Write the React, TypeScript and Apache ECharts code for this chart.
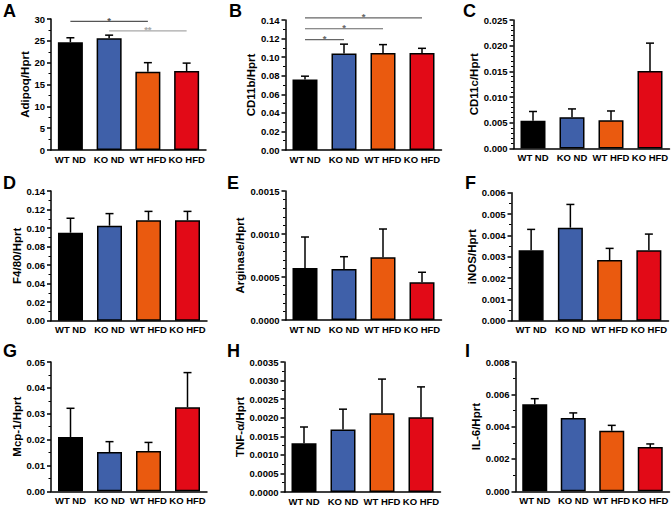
import React, { useEffect, useRef } from "react";
import * as echarts from "echarts";

const categories = ["WT ND", "KO ND", "WT HFD", "KO HFD"];
const barColors = ["#000000", "#3f60a9", "#ea5a0f", "#e20a17"];

const panelLetters = ["A", "B", "C", "D", "E", "F", "G", "H", "I"];
const yTitles = ["Adipoq/Hprt", "CD11b/Hprt", "CD11c/Hprt", "F4/80/Hprt", "Arginase/Hprt", "iNOS/Hprt", "Mcp-1/Hprt", "TNF-α/Hprt", "IL-6/Hprt"];

// means and SEM (upper error bar length)
const adipoqMean = [24.7, 25.6, 17.9, 18.1];
const adipoqSem = [1.0, 0.7, 2.1, 1.8];
const cd11bMean = [0.076, 0.104, 0.1045, 0.1045];
const cd11bSem = [0.0035, 0.010, 0.009, 0.005];
const cd11cMean = [0.0054, 0.0061, 0.0055, 0.0151];
const cd11cSem = [0.0018, 0.0016, 0.0018, 0.0054];
const f480Mean = [0.095, 0.1026, 0.1084, 0.1084];
const f480Sem = [0.0156, 0.013, 0.0096, 0.0096];
const arginaseMean = [0.000605, 0.000593, 0.000729, 0.000438];
const arginaseSem = [0.00036, 0.000143, 0.000329, 0.000117];
const inosMean = [0.0033, 0.00436, 0.00284, 0.0033];
const inosSem = [0.00098, 0.00109, 0.00055, 0.00076];
const mcp1Mean = [0.021, 0.0152, 0.0156, 0.0325];
const mcp1Sem = [0.0111, 0.004, 0.0033, 0.0134];
const tnfMean = [0.00131, 0.00168, 0.00212, 0.00201];
const tnfSem = [0.00044, 0.00055, 0.00092, 0.00082];
const il6Mean = [0.00538, 0.00454, 0.00375, 0.00274];
const il6Sem = [0.00035, 0.00031, 0.00033, 0.00019];

const means = [adipoqMean, cd11bMean, cd11cMean, f480Mean, arginaseMean, inosMean, mcp1Mean, tnfMean, il6Mean];
const sems = [adipoqSem, cd11bSem, cd11cSem, f480Sem, arginaseSem, inosSem, mcp1Sem, tnfSem, il6Sem];

// y axis scales: max, interval, minor splits, decimals
const yMax = [30, 0.14, 0.025, 0.14, 0.0015, 0.006, 0.05, 0.0035, 0.008];
const yInterval = [5, 0.02, 0.005, 0.02, 0.0005, 0.001, 0.01, 0.0005, 0.002];
const yMinorSplit = [2, 2, 5, 2, 5, 2, 2, 2, 2];
const yDecimals = [0, 2, 3, 2, 4, 3, 2, 4, 3];

// significance brackets
const sigPanel = [0, 0, 1, 1, 1];
const sigFrom = [0, 1, 0, 0, 0];
const sigTo = [2, 3, 1, 2, 3];
const sigY = [29.45, 27.3, 0.1188, 0.1306, 0.1422];
const sigLabel = ["*", "**", "*", "*", "*"];
const sigColor = ["#555555", "#a8a8a8", "#666666", "#666666", "#666666"];

// layout (pixels)
const gridLeft = [51, 285.5, 513.5, 51, 285.5, 511.5, 51, 284.5, 515.5];
const gridTop = [19, 20, 20, 191, 191, 192.7, 362, 362, 362];
const gridWidth = [155, 156, 156, 156, 156, 157, 156, 156, 154];
const gridHeight = [131, 130, 128.5, 129.7, 129, 128, 129.3, 130, 129.3];
const titleCenterX = [25, 252, 476, 17, 240, 476, 17, 240, 476];
const letterX = [3, 229, 463, 3, 227, 465, 3, 227, 465];
const letterY = [2, 2, 2, 174, 174, 174, 342, 342, 342];

const FONT = "'Liberation Sans', Arial, sans-serif";
const TITLE_SIZE = 11.5;

function buildOption() {
  const grid: any[] = [];
  const xAxis: any[] = [];
  const yAxis: any[] = [];
  const series: any[] = [];
  for (let p = 0; p < 9; p++) {
    grid.push({ left: gridLeft[p], top: gridTop[p], width: gridWidth[p], height: gridHeight[p], containLabel: false });
    xAxis.push({
      gridIndex: p,
      type: "category",
      data: categories,
      axisLine: { show: true, lineStyle: { color: "#000", width: 1.5 } },
      axisTick: { show: false },
      axisLabel: { interval: 0, color: "#000", fontWeight: "bold", fontSize: 9.5, fontFamily: FONT, margin: 4 },
      splitLine: { show: false },
    });
    const dec = yDecimals[p];
    yAxis.push({
      gridIndex: p,
      type: "value",
      min: 0,
      max: yMax[p],
      interval: yInterval[p],
      name: yTitles[p],
      nameLocation: "middle",
      nameGap: gridLeft[p] - titleCenterX[p] - TITLE_SIZE / 2,
      nameTextStyle: { color: "#000", fontWeight: "bold", fontSize: TITLE_SIZE, fontFamily: FONT },
      axisLine: { show: true, lineStyle: { color: "#000", width: 1.5 } },
      axisTick: { show: true, length: 4, lineStyle: { color: "#000", width: 1.5 } },
      minorTick: { show: true, splitNumber: yMinorSplit[p], length: 2.5, lineStyle: { color: "#000", width: 1 } },
      splitLine: { show: false },
      minorSplitLine: { show: false },
      axisLabel: {
        color: "#000",
        fontWeight: "bold",
        fontSize: 9.5,
        fontFamily: FONT,
        margin: 6,
        formatter: (v: number) => v.toFixed(dec),
      },
    });
    series.push({
      type: "bar",
      xAxisIndex: p,
      yAxisIndex: p,
      barWidth: 25,
      data: means[p].map((m, i) => ({ value: m, itemStyle: { color: barColors[i], borderColor: "#000", borderWidth: 1.5 } })),
      z: 2,
    });
    series.push({
      type: "custom",
      xAxisIndex: p,
      yAxisIndex: p,
      z: 3,
      encode: { x: 0, y: [1, 2] },
      data: means[p].map((m, i) => [i, m, m + sems[p][i]]),
      renderItem: (params: any, api: any) => {
        const x = api.value(0);
        const m = api.value(1);
        const e = api.value(2);
        const p0 = api.coord([x, m]);
        const p1 = api.coord([x, e]);
        const st = { stroke: "#000", lineWidth: 1.5 };
        return {
          type: "group",
          children: [
            { type: "line", shape: { x1: p0[0], y1: p0[1], x2: p1[0], y2: p1[1] }, style: st },
            { type: "line", shape: { x1: p1[0] - 4, y1: p1[1], x2: p1[0] + 4, y2: p1[1] }, style: st },
          ],
        };
      },
    });
  }
  for (let p = 0; p < 9; p++) {
    const idx = sigPanel.map((sp, k) => (sp === p ? k : -1)).filter((k) => k >= 0);
    if (!idx.length) continue;
    series.push({
      type: "custom",
      xAxisIndex: p,
      yAxisIndex: p,
      z: 4,
      clip: false,
      encode: { x: [0, 1], y: 2 },
      data: idx.map((k) => [sigFrom[k], sigTo[k], sigY[k], k]),
      renderItem: (params: any, api: any) => {
        const a = api.coord([api.value(0), api.value(2)]);
        const b = api.coord([api.value(1), api.value(2)]);
        const k = api.value(3);
        return {
          type: "group",
          children: [
            { type: "line", shape: { x1: a[0], y1: a[1], x2: b[0], y2: a[1] }, style: { stroke: sigColor[k], lineWidth: 1.2 } },
            {
              type: "text",
              x: (a[0] + b[0]) / 2,
              y: a[1] - 1,
              style: { text: sigLabel[k], fill: sigColor[k], fontSize: 9.5, fontWeight: "bold", fontFamily: FONT, align: "center", verticalAlign: "middle" },
            },
          ],
        };
      },
    });
  }
  const graphic = panelLetters.map((l, p) => ({
    type: "text",
    left: letterX[p],
    top: letterY[p],
    style: { text: l, fill: "#000", fontSize: 18, fontWeight: "bold", fontFamily: FONT },
  }));
  return { animation: false, backgroundColor: "#fff", grid, xAxis, yAxis, series, graphic };
}

export default function App() {
  const ref = useRef<HTMLDivElement>(null);
  useEffect(() => {
    if (!ref.current) return;
    const chart = echarts.init(ref.current, undefined, { renderer: "svg" });
    chart.setOption(buildOption() as any);
    return () => chart.dispose();
  }, []);
  return <div ref={ref} style={{ position: "fixed", left: 0, top: 0, width: 672, height: 508, background: "#fff" }} />;
}
